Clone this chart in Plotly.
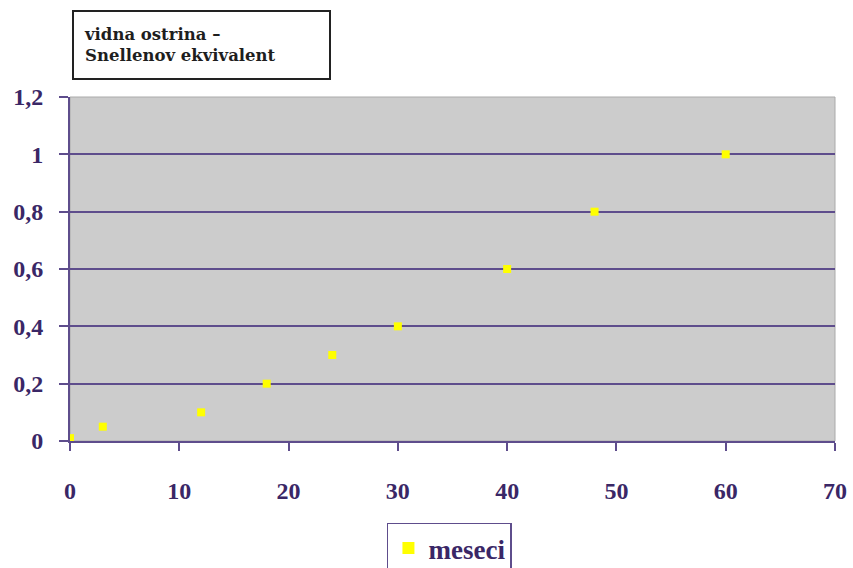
import plotly.graph_objects as go

# months after treatment and visual acuity (Snellen equivalent)
meseci = [0, 3, 12, 18, 24, 30, 40, 48, 60]
ostrina = [0.01, 0.05, 0.1, 0.2, 0.3, 0.4, 0.6, 0.8, 1.0]

y_ticks = [0, 0.2, 0.4, 0.6, 0.8, 1.0, 1.2]
y_labels = ["0", "0,2", "0,4", "0,6", "0,8", "1", "1,2"]
x_ticks = [0, 10, 20, 30, 40, 50, 60, 70]

axis_purple = "#5e4d8c"
label_purple = "#3a2766"
tick_font = dict(family="Liberation Serif", size=24, color=label_purple, weight="bold")

fig = go.Figure()
fig.add_trace(go.Scatter(
    x=meseci, y=ostrina, mode="markers", name="meseci",
    marker=dict(symbol="square", size=8, color="#ffff00", line=dict(width=0)),
))

fig.update_layout(
    width=853, height=568,
    margin=dict(l=70, r=18, t=97, b=127),
    paper_bgcolor="white",
    plot_bgcolor="#cccccc",
    showlegend=True,
    legend=dict(
        xref="paper", yref="container",
        x=0.496, xanchor="center", y=0.08, yanchor="top",
        bordercolor=axis_purple, borderwidth=1.5, bgcolor="white",
        font=dict(family="Liberation Serif", size=27, color=label_purple, weight="bold"),
        itemsizing="constant", itemwidth=30,
    ),
    xaxis=dict(
        range=[0, 70], tickvals=x_ticks, showgrid=False, zeroline=False,
        showline=True, linecolor=axis_purple, linewidth=2,
        ticks="outside", ticklen=8, tickwidth=2, tickcolor=axis_purple,
        tickfont=tick_font, ticklabelstandoff=19, automargin=False,
    ),
    yaxis=dict(
        range=[0, 1.2], tickvals=y_ticks, ticktext=y_labels,
        showgrid=True, gridcolor=axis_purple, gridwidth=2, zeroline=False,
        showline=True, linecolor=axis_purple, linewidth=2,
        ticks="outside", ticklen=9, tickwidth=2, tickcolor=axis_purple,
        tickfont=tick_font, ticklabelstandoff=11, automargin=False,
    ),
    annotations=[dict(
        text="vidna ostrina –<br>Snellenov ekvivalent",
        xref="paper", yref="paper", x=0.0025, y=1.05,
        xanchor="left", yanchor="bottom", align="left",
        showarrow=False, width=235, height=46,
        font=dict(family="DejaVu Serif", size=16.5, color="#1e1e1e", weight="bold"),
        bordercolor="#222222", borderwidth=2, borderpad=10, bgcolor="white",
    )],
    shapes=[dict(
        type="rect", xref="paper", yref="paper", x0=0, x1=1, y0=0, y1=1,
        line=dict(color="#aaaaaa", width=1), layer="below",
    )],
)

fig.write_html("out.html")
